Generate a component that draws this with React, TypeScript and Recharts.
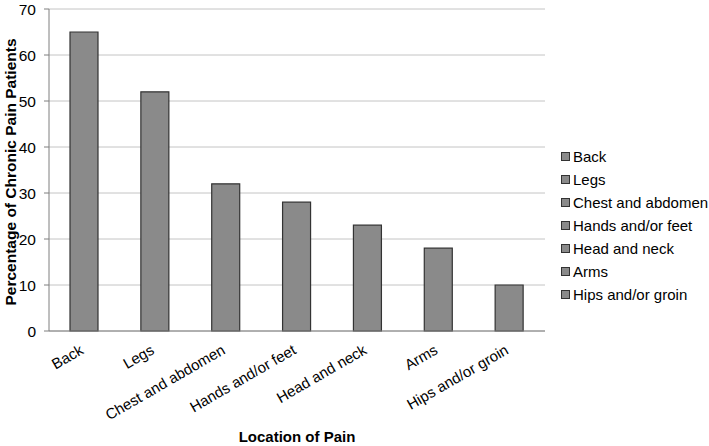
import React from "react";
import {
  BarChart,
  Bar,
  XAxis,
  YAxis,
  CartesianGrid,
  Legend,
  Label,
} from "recharts";

const locations = [
  "Back",
  "Legs",
  "Chest and abdomen",
  "Hands and/or feet",
  "Head and neck",
  "Arms",
  "Hips and/or groin",
];
const percentages = [65, 52, 32, 28, 23, 18, 10];
const yTicks = [0, 10, 20, 30, 40, 50, 60, 70];

const data = locations.map((location, i) => ({
  location,
  percent: percentages[i],
}));

const FONT = "'Liberation Sans', Arial, Helvetica, sans-serif";
const BAR_FILL = "#8a8a8a";
const BAR_STROKE = "#333333";

const XTick = (props: any) => {
  const { x, payload } = props;
  const y = 353;
  return (
    <text
      x={x}
      y={y}
      transform={`rotate(-30, ${x}, ${y})`}
      textAnchor="end"
      fontSize={15}
      fontFamily={FONT}
      fill="#000"
    >
      {payload.value}
    </text>
  );
};

const LegendBox = () => (
  <div style={{ fontFamily: FONT, fontSize: 15, color: "#000", whiteSpace: "nowrap" }}>
    {locations.map((name) => (
      <div
        key={name}
        style={{ display: "flex", alignItems: "center", height: 23 }}
      >
        <span
          style={{
            width: 7,
            height: 7,
            flex: "none",
            background: BAR_FILL,
            border: `1px solid ${BAR_STROKE}`,
            marginRight: 3,
            display: "inline-block",
          }}
        />
        {name}
      </div>
    ))}
  </div>
);

export default function App() {
  return (
    <div style={{ position: "absolute", left: 0, top: 0, background: "#fff" }}>
      <BarChart
        width={709}
        height={446}
        data={data}
        margin={{ top: 9, right: 164, bottom: 0, left: 0 }}
      >
        <CartesianGrid vertical={false} stroke="#c4c4c4" />
        <XAxis
          dataKey="location"
          height={115}
          tickLine={false}
          axisLine={{ stroke: "#7f7f7f" }}
          tick={<XTick />}
          interval={0}
        >
          <Label
            value="Location of Pain"
            position="insideBottom"
            offset={4}
            style={{ fontFamily: FONT, fontSize: 15, fontWeight: "bold", fill: "#000" }}
          />
        </XAxis>
        <YAxis
          width={49}
          domain={[0, 70]}
          ticks={yTicks}
          tickSize={5}
          tickMargin={8}
          tickLine={{ stroke: "#7f7f7f" }}
          axisLine={{ stroke: "#7f7f7f" }}
          tick={{ fontFamily: FONT, fontSize: 15.5, fill: "#000" }}
        >
          <Label
            content={() => (
              <text
                x={10}
                y={172}
                transform="rotate(-90, 10, 172)"
                textAnchor="middle"
                dominantBaseline="central"
                fontFamily={FONT}
                fontSize={15.5}
                fontWeight="bold"
                fill="#000"
              >
                Percentage of Chronic Pain Patients
              </text>
            )}
          />
        </YAxis>
        <Legend
          layout="horizontal"
          verticalAlign="middle"
          align="center"
          content={<LegendBox />}
          wrapperStyle={{ left: 561, top: 145, width: 148, height: 165 }}
        />
        <Bar
          dataKey="percent"
          fill={BAR_FILL}
          stroke={BAR_STROKE}
          strokeWidth={1.2}
          barSize={28}
          isAnimationActive={false}
        />
      </BarChart>
    </div>
  );
}
